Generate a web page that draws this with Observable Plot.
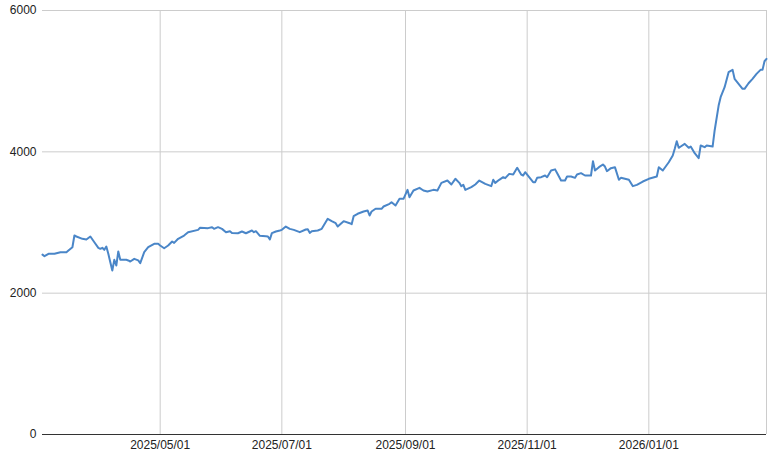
<!DOCTYPE html>
<html>
<head>
<meta charset="utf-8">
<script src="https://cdn.jsdelivr.net/npm/d3@7"></script>
<script src="https://cdn.jsdelivr.net/npm/@observablehq/plot@0.6"></script>
<style>
  html, body { margin: 0; padding: 0; background: #fff; }
</style>
</head>
<body>
<div id="chart"></div>
<script>
const dates = [
  "2025-03-03","2025-03-04","2025-03-06","2025-03-09","2025-03-12","2025-03-15","2025-03-16","2025-03-18","2025-03-19","2025-03-20",
  "2025-03-23","2025-03-25","2025-03-27","2025-03-29","2025-03-31","2025-04-01","2025-04-02","2025-04-03","2025-04-04","2025-04-05",
  "2025-04-06","2025-04-07","2025-04-08","2025-04-09","2025-04-10","2025-04-11","2025-04-14","2025-04-15","2025-04-16","2025-04-18",
  "2025-04-20","2025-04-21","2025-04-23","2025-04-25","2025-04-28","2025-04-30","2025-05-01","2025-05-03","2025-05-05","2025-05-07",
  "2025-05-08","2025-05-10","2025-05-13","2025-05-15","2025-05-20","2025-05-21","2025-05-25","2025-05-27","2025-05-28","2025-05-30",
  "2025-06-01","2025-06-03","2025-06-05","2025-06-06","2025-06-09","2025-06-11","2025-06-13","2025-06-16","2025-06-17","2025-06-18",
  "2025-06-20","2025-06-23","2025-06-24","2025-06-25","2025-06-26","2025-06-28","2025-06-30","2025-07-01","2025-07-03","2025-07-05",
  "2025-07-07","2025-07-10","2025-07-13","2025-07-14","2025-07-15","2025-07-16","2025-07-19","2025-07-21","2025-07-24","2025-07-26",
  "2025-07-28","2025-07-29","2025-08-01","2025-08-04","2025-08-05","2025-08-06","2025-08-08","2025-08-11","2025-08-13","2025-08-14",
  "2025-08-15","2025-08-17","2025-08-20","2025-08-21","2025-08-24","2025-08-25","2025-08-27","2025-08-29","2025-08-31","2025-09-02",
  "2025-09-03","2025-09-05","2025-09-08","2025-09-10","2025-09-12","2025-09-15","2025-09-17","2025-09-19","2025-09-22","2025-09-24",
  "2025-09-26","2025-09-28","2025-09-29","2025-09-30","2025-10-01","2025-10-04","2025-10-06","2025-10-08","2025-10-11","2025-10-14",
  "2025-10-15","2025-10-16","2025-10-18","2025-10-20","2025-10-21","2025-10-23","2025-10-25","2025-10-27","2025-10-29","2025-10-30",
  "2025-10-31","2025-11-02","2025-11-04","2025-11-05","2025-11-06","2025-11-08","2025-11-10","2025-11-11","2025-11-13","2025-11-15",
  "2025-11-16","2025-11-18","2025-11-20","2025-11-21","2025-11-23","2025-11-25","2025-11-26","2025-11-28","2025-11-30","2025-12-03",
  "2025-12-04","2025-12-05","2025-12-07","2025-12-09","2025-12-10","2025-12-11","2025-12-13","2025-12-15","2025-12-17","2025-12-18",
  "2025-12-20","2025-12-22","2025-12-24","2025-12-26","2025-12-29","2026-01-01","2026-01-05","2026-01-06","2026-01-08","2026-01-11",
  "2026-01-13","2026-01-14","2026-01-15","2026-01-16","2026-01-17","2026-01-19","2026-01-21","2026-01-22","2026-01-24","2026-01-26",
  "2026-01-27","2026-01-29","2026-01-30","2026-02-02","2026-02-03","2026-02-05","2026-02-06","2026-02-08","2026-02-10","2026-02-12",
  "2026-02-13","2026-02-17","2026-02-18","2026-02-20","2026-02-22","2026-02-24","2026-02-26","2026-02-27","2026-02-28","2026-03-01"
];
const values = [
  2545,2523,2557,2557,2580,2580,2604,2650,2816,2802,
  2769,2759,2802,2721,2642,2628,2642,2613,2660,2557,
  2438,2321,2472,2391,2590,2472,2472,2463,2448,2486,
  2463,2424,2580,2650,2698,2698,2674,2636,2674,2731,
  2712,2769,2816,2863,2896,2925,2920,2934,2910,2934,
  2910,2863,2877,2853,2848,2872,2848,2887,2863,2877,
  2811,2806,2802,2759,2849,2872,2887,2896,2943,2910,
  2896,2863,2901,2905,2853,2877,2887,2910,3052,3019,
  2990,2943,3019,2990,2976,3089,3123,3155,3170,3099,
  3155,3194,3194,3226,3264,3287,3240,3335,3335,3462,
  3358,3453,3491,3453,3438,3462,3453,3561,3594,3538,
  3618,3561,3514,3533,3462,3500,3538,3594,3547,3514,
  3604,3561,3604,3641,3627,3688,3678,3774,3679,3665,
  3712,3641,3571,3571,3632,3641,3665,3641,3736,3752,
  3700,3594,3594,3651,3651,3632,3679,3698,3665,3665,
  3868,3736,3783,3821,3792,3726,3769,3783,3604,3632,
  3618,3604,3514,3533,3580,3618,3651,3783,3736,3853,
  3948,4043,4151,4057,4076,4113,4057,4076,3981,3910,
  4090,4066,4090,4076,4302,4655,4773,4914,5127,5160,
  5033,4891,4891,4971,5033,5103,5160,5160,5282,5315
];
const xTickDates = ["2025-05-01","2025-07-01","2025-09-01","2025-11-01","2026-01-01"];
const xGridDates = ["2025-05-01","2025-07-01","2025-09-01","2025-11-01","2026-01-01","2026-03-01"];
const yTicks = [0, 2000, 4000, 6000];
const xDomain = ["2025-03-03", "2026-03-01"];

const data = dates.map((d, i) => ({date: new Date(d), value: values[i]}));
const toDate = s => new Date(s);

const chart = Plot.plot({
  width: 776,
  height: 454,
  marginLeft: 42,
  marginRight: 10,
  marginTop: 10,
  marginBottom: 20,
  style: {fontFamily: "'Liberation Sans', Arial, sans-serif", fontSize: "12px", color: "#222", background: "#fff"},
  x: {type: "utc", domain: xDomain.map(toDate), label: null},
  y: {domain: [0, 6000], label: null},
  marks: [
    Plot.gridX(xGridDates.map(toDate), {stroke: "#cccccc", strokeOpacity: 1}),
    Plot.gridY(yTicks.filter(v => v > 0), {stroke: "#cccccc", strokeOpacity: 1}),
    Plot.ruleY([0], {stroke: "#333333", strokeWidth: 1}),
    Plot.axisX(xTickDates.map(toDate), {tickSize: 0, tickPadding: 6, tickFormat: d3.utcFormat("%Y/%m/%d"), label: null, fill: "#222"}),
    Plot.axisY(yTicks, {tickSize: 0, tickPadding: 6, tickFormat: d => String(d), label: null, fill: "#222"}),
    Plot.line(data, {x: "date", y: "value", stroke: "#4a86c8", strokeWidth: 2, curve: "linear"})
  ]
});
document.getElementById("chart").appendChild(chart);
</script>
</body>
</html>
